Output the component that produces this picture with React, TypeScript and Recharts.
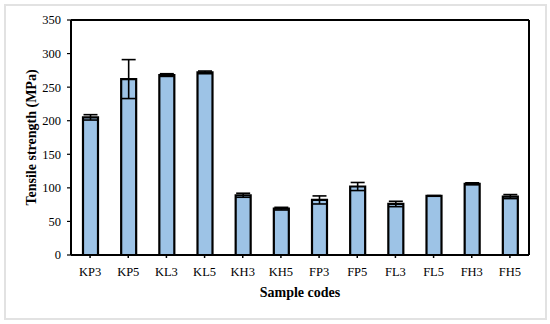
import React from 'react';
import { BarChart, Bar, XAxis, YAxis, ErrorBar } from 'recharts';

const categories = ['KP3', 'KP5', 'KL3', 'KL5', 'KH3', 'KH5', 'FP3', 'FP5', 'FL3', 'FL5', 'FH3', 'FH5'];
const strengths = [205, 262, 268, 272, 89, 69, 82, 102, 76, 88, 106, 87];
const errors = [4, 29, 2, 2, 3, 2, 6, 6, 4, 0.5, 1.5, 3];
const majorTicks = [0, 50, 100, 150, 200, 250, 300, 350];
const minorTicks = [
  0, 10, 20, 30, 40, 50, 60, 70, 80, 90, 100, 110, 120, 130, 140, 150, 160, 170,
  180, 190, 200, 210, 220, 230, 240, 250, 260, 270, 280, 290, 300, 310, 320, 330, 340, 350,
];

const data = categories.map((c, i) => ({ code: c, value: strengths[i], err: errors[i] }));

const font = '"Liberation Serif", "Times New Roman", serif';

export default function App() {
  return (
    <div style={{ position: 'absolute', left: 0, top: 0, width: 550, height: 324, background: '#fff' }}>
      <div
        style={{
          position: 'absolute',
          left: 4,
          top: 4,
          width: 539,
          height: 312,
          border: '2px solid #e2e2e2',
        }}
      />
      <div style={{ position: 'absolute', left: 0, top: 0 }}>
        <BarChart
          width={550}
          height={324}
          data={data}
          margin={{ top: 19, right: 20, bottom: 24, left: 11 }}
          barCategoryGap={0}
        >
          <XAxis
            dataKey="code"
            interval={0}
            tickSize={3}
            tickMargin={9}
            height={45}
            axisLine={{ stroke: '#000', strokeWidth: 2 }}
            tickLine={{ stroke: '#000', strokeWidth: 1.5 }}
            tick={{ fill: '#000', fontSize: 12.5, fontFamily: font }}
            label={{
              value: 'Sample codes',
              position: 'insideBottom',
              offset: 3,
              style: { fill: '#000', fontSize: 14, fontWeight: 'bold', fontFamily: font },
            }}
          />
          <XAxis
            xAxisId="top"
            orientation="top"
            dataKey="code"
            height={1}
            tick={false}
            tickLine={false}
            axisLine={{ stroke: '#000', strokeWidth: 2 }}
          />
          <YAxis
            yAxisId="minor"
            width={1}
            domain={[0, 350]}
            ticks={minorTicks}
            interval={0}
            tick={false}
            tickSize={3}
            axisLine={false}
            tickLine={{ stroke: '#000', strokeWidth: 1.2 }}
          />
          <YAxis
            yAxisId="main"
            width={59}
            domain={[0, 350]}
            ticks={majorTicks}
            interval={0}
            tickSize={4}
            tickMargin={6}
            axisLine={{ stroke: '#000', strokeWidth: 2 }}
            tickLine={{ stroke: '#000', strokeWidth: 1.2 }}
            tick={{ fill: '#000', fontSize: 12.5, fontFamily: font }}
            label={{
              value: 'Tensile strength (MPa)',
              angle: -90,
              position: 'insideLeft',
              offset: 19,
              style: { textAnchor: 'middle', fill: '#000', fontSize: 14, fontWeight: 'bold', fontFamily: font },
            }}
          />
          <YAxis
            yAxisId="right"
            orientation="right"
            width={1}
            domain={[0, 350]}
            tick={false}
            tickLine={false}
            axisLine={{ stroke: '#000', strokeWidth: 2 }}
          />
          <Bar
            yAxisId="main"
            dataKey="value"
            fill="#9DC3E6"
            stroke="#000"
            strokeWidth={2.2}
            barSize={15}
            isAnimationActive={false}
          >
            <ErrorBar dataKey="err" width={7} stroke="#000" strokeWidth={1.6} direction="y" />
          </Bar>
        </BarChart>
      </div>
    </div>
  );
}
